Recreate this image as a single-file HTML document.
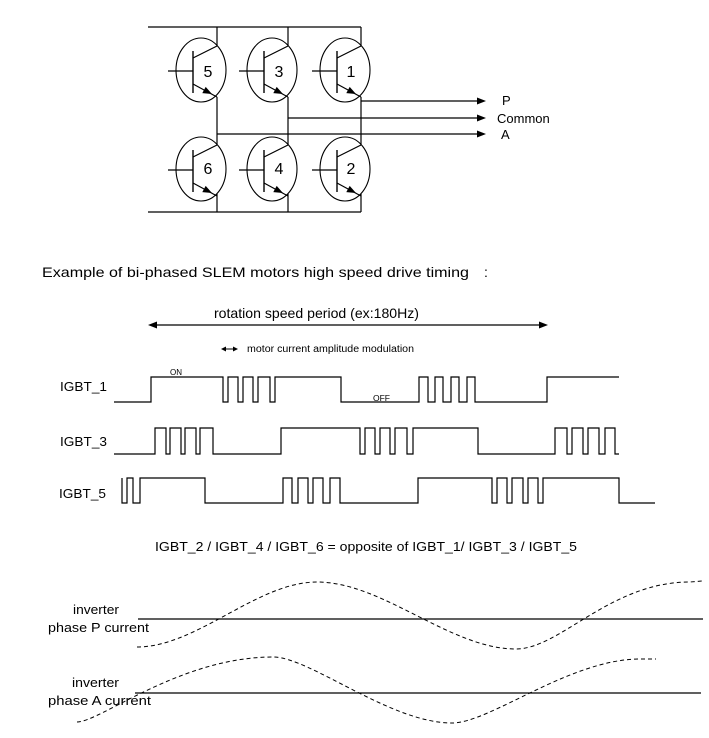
<!DOCTYPE html>
<html>
<head>
<meta charset="utf-8">
<style>
  html, body { margin:0; padding:0; background:#fff; }
  body { width:709px; height:738px; overflow:hidden; }
  svg { display:block; }
  text { font-family: "Liberation Sans", Arial, sans-serif; fill:#000; }
</style>
</head>
<body>
<svg width="709" height="738" viewBox="0 0 709 738" xmlns="http://www.w3.org/2000/svg">
  <rect width="709" height="738" fill="#fff"/>
  <g stroke="#000" stroke-width="1.2" fill="none">
    <!-- rails -->
    <line x1="148" y1="27" x2="361" y2="27"/>
    <line x1="148" y1="212" x2="361" y2="212"/>
    <!-- vertical connections -->
    <line x1="217" y1="27" x2="217" y2="46"/>
    <line x1="217" y1="97" x2="217" y2="145"/>
    <line x1="217" y1="194" x2="217" y2="212"/>
    <line x1="288" y1="27" x2="288" y2="46"/>
    <line x1="288" y1="97" x2="288" y2="145"/>
    <line x1="288" y1="194" x2="288" y2="212"/>
    <line x1="361" y1="27" x2="361" y2="46"/>
    <line x1="361" y1="97" x2="361" y2="145"/>
    <line x1="361" y1="194" x2="361" y2="212"/>
    <!-- output lines -->
    <line x1="361" y1="101" x2="478" y2="101"/>
    <line x1="288" y1="118" x2="478" y2="118"/>
    <line x1="217" y1="134" x2="478" y2="134"/>
  </g>
  <g fill="#000">
    <polygon points="486,101 477,97.5 477,104.5"/>
    <polygon points="486,118 477,114.5 477,121.5"/>
    <polygon points="486,134 477,130.5 477,137.5"/>
  </g>

  <!-- transistors -->
  <defs>
    <g id="tr">
      <ellipse cx="0" cy="0" rx="25" ry="32" fill="none" stroke="#000" stroke-width="1.1"/>
      <line x1="-33" y1="1" x2="-8" y2="1" stroke="#000" stroke-width="1.2"/>
      <line x1="-8" y1="-19" x2="-8" y2="23" stroke="#000" stroke-width="1.4"/>
      <line x1="-8" y1="-12" x2="16" y2="-24" stroke="#000" stroke-width="1.2"/>
      <line x1="-8" y1="14" x2="16" y2="27" stroke="#000" stroke-width="1.2"/>
      <polygon points="11,24 1.3,23.1 4.7,16.9" fill="#000"/>
    </g>
  </defs>
  <use href="#tr" x="201" y="70"/>
  <use href="#tr" x="272" y="70"/>
  <use href="#tr" x="345" y="70"/>
  <use href="#tr" x="201" y="169"/>
  <use href="#tr" x="272" y="169"/>
  <use href="#tr" x="345" y="169"/>

  <g font-size="16" text-anchor="middle">
    <text x="208" y="77">5</text>
    <text x="279" y="77">3</text>
    <text x="351" y="77">1</text>
    <text x="208" y="174">6</text>
    <text x="279" y="174">4</text>
    <text x="351" y="174">2</text>
  </g>
  <g font-size="13">
    <text x="502" y="105">P</text>
    <text x="497" y="123">Common</text>
    <text x="501" y="139">A</text>
  </g>

  <!-- heading -->
  <text x="42" y="277" font-size="14" textLength="427" lengthAdjust="spacingAndGlyphs">Example of bi-phased SLEM motors high speed drive timing</text>
  <text x="484" y="277" font-size="14">:</text>

  <!-- rotation period arrow -->
  <text x="214" y="318" font-size="14" textLength="205" lengthAdjust="spacingAndGlyphs">rotation speed period (ex:180Hz)</text>
  <line x1="154" y1="325" x2="542" y2="325" stroke="#000" stroke-width="1.2"/>
  <polygon points="148,325 157,321.5 157,328.5" fill="#000"/>
  <polygon points="548,325 539,321.5 539,328.5" fill="#000"/>

  <!-- small double arrow -->
  <line x1="224" y1="349" x2="236" y2="349" stroke="#000" stroke-width="1"/>
  <polygon points="221,349 226,346.5 226,351.5" fill="#000"/>
  <polygon points="238,349 233,346.5 233,351.5" fill="#000"/>
  <text x="247" y="352" font-size="10" textLength="167" lengthAdjust="spacingAndGlyphs">motor current amplitude modulation</text>

  <!-- IGBT labels -->
  <g font-size="13">
    <text x="60" y="391" textLength="47" lengthAdjust="spacingAndGlyphs">IGBT_1</text>
    <text x="60" y="446" textLength="47" lengthAdjust="spacingAndGlyphs">IGBT_3</text>
    <text x="59" y="498" textLength="47" lengthAdjust="spacingAndGlyphs">IGBT_5</text>
  </g>
  <text x="170" y="375" font-size="8" textLength="12" lengthAdjust="spacingAndGlyphs">ON</text>
  <text x="373" y="401" font-size="8" textLength="17" lengthAdjust="spacingAndGlyphs">OFF</text>

  <!-- waveforms -->
  <g stroke="#000" stroke-width="1.2" fill="none">
    <path d="M114,402 H151 V377 H223 V402 H228 V377 H238 V402 H243 V377 H253 V402 H258 V377 H270 V402 H275 V377 H341 V402 H419 V377 H428 V402 H435 V377 H443 V402 H451 V377 H459 V402 H467 V377 H475 V402 H547 V377 H619"/>
    <path d="M114,454 H155 V428 H166 V454 H170 V428 H181 V454 H185 V428 H196 V454 H200 V428 H213 V454 H281 V428 H360 V454 H365 V428 H375 V454 H380 V428 H390 V454 H395 V428 H407 V454 H413 V428 H478 V454 H555 V428 H567 V454 H572 V428 H583 V454 H588 V428 H599 V454 H605 V428 H615 V454 H619"/>
    <path d="M122,478 V503 H127 V478 H133 V503 H140 V478 H205 V503 H283 V478 H292 V503 H298 V478 H308 V503 H313 V478 H323 V503 H330 V478 H340 V503 H418 V478 H492 V503 H497 V478 H507 V503 H512 V478 H523 V503 H528 V478 H538 V503 H543 V478 H619 V503 H655"/>
  </g>

  <text x="155" y="551" font-size="13" textLength="422" lengthAdjust="spacingAndGlyphs">IGBT_2 / IGBT_4 / IGBT_6 = opposite of IGBT_1/ IGBT_3 / IGBT_5</text>

  <!-- current plots -->
  <g font-size="13">
    <text x="73" y="614" textLength="46" lengthAdjust="spacingAndGlyphs">inverter</text>
    <text x="48" y="632" textLength="101" lengthAdjust="spacingAndGlyphs">phase P current</text>
    <text x="72" y="687" textLength="47" lengthAdjust="spacingAndGlyphs">inverter</text>
    <text x="48" y="705" textLength="103" lengthAdjust="spacingAndGlyphs">phase A current</text>
  </g>
  <line x1="138" y1="619" x2="703" y2="619" stroke="#000" stroke-width="1.2"/>
  <line x1="135" y1="693" x2="701" y2="693" stroke="#000" stroke-width="1.2"/>
  <g stroke="#000" stroke-width="1" fill="none" stroke-dasharray="4 3">
    <path d="M137,647 C197,647 257,582 317,582 C383,582 450,649 516,649 C560,649 610,582 690,582 L702,581"/>
    <path d="M77,722 C100,722 180,657 273,657 C310,657 390,723 452,723 C490,723 570,659 640,659 L656,659"/>
  </g>
</svg>
</body>
</html>
